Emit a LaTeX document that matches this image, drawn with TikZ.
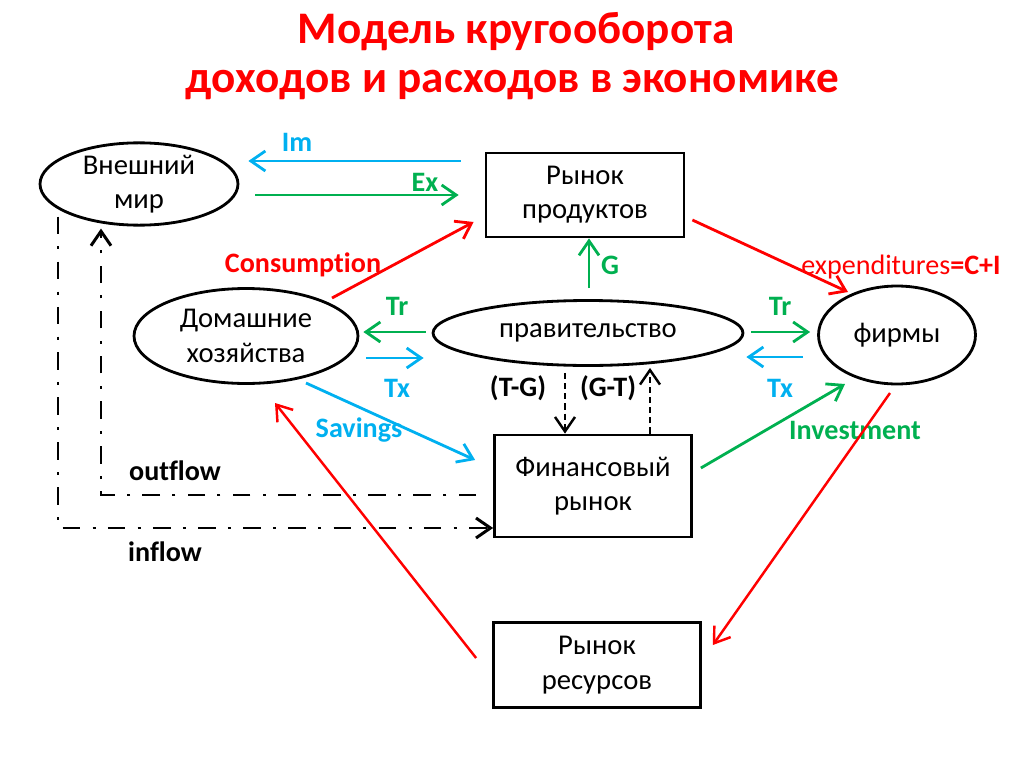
\documentclass[tikz,border=0pt]{standalone}
\usepackage{fontspec}
\setmainfont{Carlito}[Ligatures=NoCommon]
\usetikzlibrary{arrows.meta, positioning, calc, shapes.geometric}

\definecolor{flowred}{RGB}{255,0,0}
\definecolor{flowgreen}{RGB}{0,176,80}
\definecolor{flowblue}{RGB}{0,176,240}

\begin{document}
\begin{tikzpicture}[
    x=0.02cm, y=-0.02cm,
    font=\fontsize{16.3}{19.5}\selectfont,
    >={Straight Barb[length=2.9mm, width=4mm]},
    every node/.style={align=center},
    oval/.style={draw, ellipse, line width=1.6pt, inner sep=0pt},
    box/.style={draw, line width=1.6pt, inner sep=0pt},
    flow/.style={->, line width=1.6pt},
    lbl/.style={font=\fontsize{16}{19}\selectfont\bfseries, inner sep=0pt},
    gapflow/.style={->, line width=1.4pt, dash pattern=on 3.5pt off 2.3pt},
    worldflow/.style={line width=1.7pt, dash pattern=on 10pt off 7pt on 1.7pt off 7pt}
]
\useasboundingbox (0,0) rectangle (1024,767);

% Title
\node[font=\fontsize{25.7}{31}\selectfont\bfseries, text=flowred, anchor=base]
   (title1) at (516,44) {Модель кругооборота};
\node[font=\fontsize{25.7}{31}\selectfont\bfseries, text=flowred, anchor=base]
   (title2) at (512,92) {доходов и расходов в экономике};

% 1) Sectors and markets.
\node[oval, minimum width=3.96cm, minimum height=1.54cm] (world) at (139,184) {Внешний\\мир};
\node[box, minimum width=3.96cm, minimum height=1.68cm] (prod) at (585,195) {Рынок\\продуктов};
\node[oval, minimum width=4.48cm, minimum height=1.9cm] (house) at (246,336) {Домашние\\хозяйства};
\node[oval, minimum width=6.2cm, minimum height=1.3cm] (gov) at (588,333) {правительство};
\node[oval, minimum width=3.14cm, minimum height=1.96cm] (firms) at (897,335) {фирмы};
\node[box, minimum width=3.94cm, minimum height=2.04cm] (fin) at (593,486) {Финансовый\\рынок};
\node[box, minimum width=4.14cm, minimum height=1.7cm] (res) at (597,665) {Рынок\\ресурсов};

% 2) Foreign trade.
\draw[flow, flowblue] ($(prod.west)+(-24,-34)$) -- ($(world.east)+(9,-23)$);
\node[lbl, text=flowblue] (imlbl) at (297,142) {Im};
\draw[flow, flowgreen] ($(world.east)+(16,11)$) -- ($(prod.west)+(-26,0)$);
\node[lbl, text=flowgreen] (exlbl) at (425,182) {Ex};

% 3) Spending flows.
\draw[flow, flowred] ($(house.center)+(86,-38)$) -- ($(prod.west)+(-11,27)$);
\node[lbl, text=flowred] (conslbl) at (303,265) {Consumption};
\draw[flow, flowgreen] ($(gov.north)+(1,-11)$) -- ($(prod.south)+(4,0)$);
\node[lbl, text=flowgreen] (glbl) at (610,265) {G};
\draw[flow, flowred] ($(prod.east)+(7,25)$) -- ($(firms.center)+(-49,-43)$);
\node[lbl, text=flowred, font=\fontsize{16}{19}\selectfont] (explbl) at (901,267)
   {expenditures\textbf{=C+I}};

% 4) Transfers and taxes.
\draw[flow, flowgreen] ($(gov.west)+(-6,-1)$) -- ($(house.east)+(4,-4)$);
\node[lbl, text=flowgreen] (trleft) at (397,306) {Tr};
\draw[flow, flowblue] ($(house.east)+(7,22)$) -- ($(gov.west)+(-8,25)$);
\node[lbl, text=flowblue] (txleft) at (397,388) {Tx};
\draw[flow, flowgreen] ($(gov.east)+(7,-1)$) -- ($(firms.west)+(-7,-3)$);
\node[lbl, text=flowgreen] (trright) at (780,306) {Tr};
\draw[flow, flowblue] ($(firms.west)+(-14,22)$) -- ($(gov.east)+(2,24)$);
\node[lbl, text=flowblue] (txright) at (780,388) {Tx};

% 5) Budget balance.
\draw[gapflow] ($(gov.south)+(-23,6)$) -- ($(fin.north)+(-28,0)$);
\node[lbl] (tglbl) at (518,388) {(T-G)};
\draw[gapflow] ($(fin.north)+(57,0)$) -- ($(gov.south)+(62,1)$);
\node[lbl] (gtlbl) at (608,388) {(G-T)};

% 6) Savings and investment.
\draw[flow, flowblue] ($(house.center)+(60,47)$) -- ($(fin.west)+(-18,-26)$);
\node[lbl, text=flowblue] (savlbl) at (359,430) {Savings};
\draw[flow, flowgreen] ($(fin.east)+(8,-18)$) -- ($(firms.center)+(-52,49)$);
\node[lbl, text=flowgreen] (invlbl) at (855,430) {Investment};

% 7) Resource market.
\draw[flow, flowred, line width=1.4pt] ($(firms.center)+(-7,58)$) -- ($(res.east)+(11,-20)$);
\draw[flow, flowred, line width=1.4pt] ($(res.west)+(-16,-7)$) -- ($(house.center)+(29,67)$);

% 8) Capital flows.
\draw[worldflow, ->] ($(fin.west)+(-17,9)$) -| ($(world.south)+(-38,2)$);
\node[lbl] (outlbl) at (175,471) {outflow};
\draw[worldflow, ->] ($(world.south)+(-81,-10)$) |- ($(fin.west)+(0,42)$);
\node[lbl] (inlbl) at (165,552) {inflow};

\end{tikzpicture}
\end{document}
